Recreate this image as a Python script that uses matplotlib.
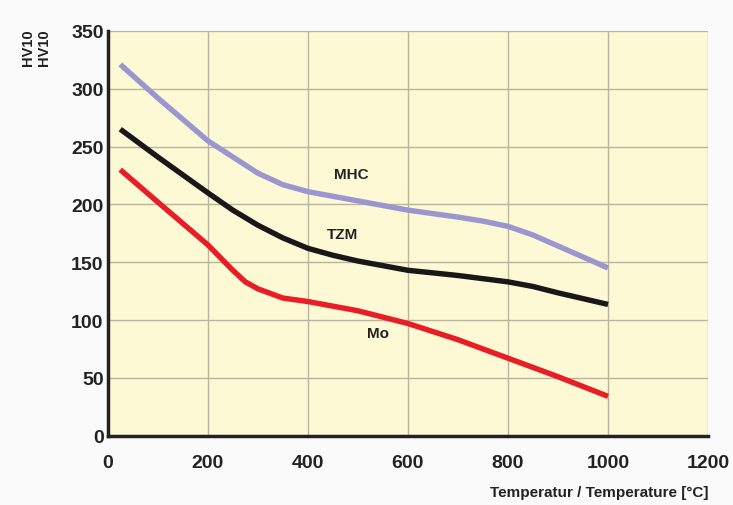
import numpy as np
import matplotlib.pyplot as plt

plt.rcParams['font.family'] = ['Liberation Sans', 'DejaVu Sans']

# hardness curves (temperature in °C, HV10)
mhc_t = [25, 100, 200, 250, 300, 350, 400, 450, 500, 550, 600, 700, 750, 800, 850, 900, 950, 1000]
mhc = [321, 292, 255, 241, 227, 217, 211, 207, 203, 199, 195, 189, 185.5, 181, 173.5, 164, 154.5, 145]

tzm_t = [25, 100, 200, 250, 300, 350, 400, 450, 500, 600, 700, 800, 850, 900, 950, 1000]
tzm = [265, 241, 210, 195, 182, 171, 162, 156, 151, 143, 138.5, 133, 129, 123.5, 118.5, 113.5]

mo_t = [25, 100, 200, 250, 275, 300, 350, 400, 500, 600, 700, 800, 900, 1000]
mo = [230, 202, 165, 143, 133, 127, 119, 116, 108, 97, 83, 67, 51, 34]

labels = ['MHC', 'TZM', 'Mo']
label_pos = [(487, 226), (470, 174), (540, 89)]

fig = plt.figure(figsize=(7.33, 5.06), dpi=100)
fig.patch.set_facecolor('#fafafa')
ax = fig.add_axes([0.147, 0.137, 0.819, 0.8])
ax.set_facecolor('#fef9d5')

ax.plot(mhc_t, mhc, color='#9a97d0', lw=3.9, solid_capstyle='butt', solid_joinstyle='round')
ax.plot(tzm_t, tzm, color='#1a1718', lw=3.9, solid_capstyle='butt', solid_joinstyle='round')
ax.plot(mo_t, mo, color='#e81d25', lw=3.9, solid_capstyle='butt', solid_joinstyle='round')

for name, (x, y) in zip(labels, label_pos):
    ax.text(x, y, name, fontsize=11, fontweight='bold', color='#222222',
            ha='center', va='center')

ax.set_xlim(0, 1200)
ax.set_ylim(0, 350)
ax.set_xticks(range(0, 1201, 200))
ax.set_yticks(range(0, 351, 50))
ax.grid(True, color='#b9b59d', lw=1)
ax.set_axisbelow(True)
ax.tick_params(length=0, labelsize=14)
ax.tick_params(axis='x', pad=13)
ax.tick_params(axis='y', pad=3)
for lab in ax.get_xticklabels() + ax.get_yticklabels():
    lab.set_fontweight('bold')
    lab.set_color('#222222')
for side in ['top', 'right']:
    ax.spines[side].set_visible(False)
for side in ['left', 'bottom']:
    ax.spines[side].set_linewidth(2.5)
    ax.spines[side].set_color('#222222')

fig.text(0.038, 0.905, 'HV10', rotation=90, fontsize=10.5, fontweight='bold',
         color='#222222', ha='center', va='center')
fig.text(0.06, 0.905, 'HV10', rotation=90, fontsize=10.5, fontweight='bold',
         color='#222222', ha='center', va='center')
fig.text(0.966, 0.025, 'Temperatur / Temperature [°C]', fontsize=11,
         fontweight='bold', color='#222222', ha='right', va='center')

fig.savefig('out.png', dpi=100, facecolor=fig.get_facecolor())
